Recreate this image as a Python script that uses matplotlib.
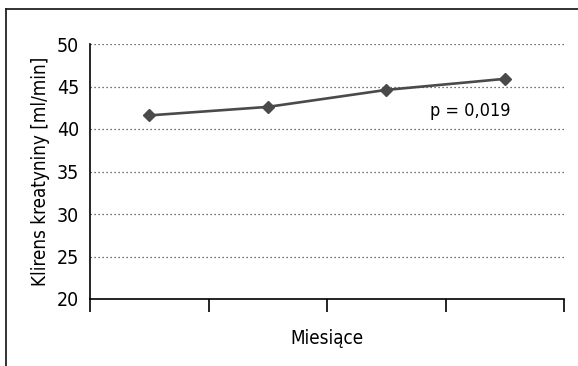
import matplotlib
matplotlib.use('Agg')
import matplotlib.pyplot as plt
from matplotlib.lines import Line2D

# clearance over four time points
months = ['1', '2', '3', '4']
klirens = [41.6, 42.6, 44.6, 45.9]
y_ticks = [20, 25, 30, 35, 40, 45, 50]

plt.rcParams['font.family'] = ['DejaVu Sans']
plt.rcParams['font.stretch'] = 'condensed'

W, H = 578, 366
fig = plt.figure(figsize=(W / 100, H / 100), dpi=100)
ax = fig.add_axes([90 / W, (H - 299) / H, (564 - 90) / W, (299 - 44) / H])

x = range(len(months))
ax.plot(x, klirens, color='#4a4a4a', lw=1.9, marker='D', ms=6,
        markerfacecolor='#4a4a4a', markeredgecolor='#4a4a4a')

ax.set_xlim(-0.5, len(months) - 0.5)
ax.set_ylim(20, 50)
ax.set_yticks(y_ticks)

# dotted horizontal gridlines (none on the baseline)
for t in y_ticks[1:]:
    ax.axhline(t, color='#444444', lw=0.9, ls=(0, (1, 2.2)), zorder=0)

# category ticks on the boundaries between months
ax.set_xticks([i - 0.5 for i in range(len(months) + 1)])
ax.set_xticklabels([])
ax.tick_params(axis='x', direction='out', length=9, width=1.2, color='black')
ax.tick_params(axis='y', length=0, pad=8, labelsize=14)

for s in ['top', 'right']:
    ax.spines[s].set_visible(False)
ax.spines['left'].set_linewidth(1.2)
ax.spines['bottom'].set_linewidth(1.2)

ax.set_xlabel('Miesiące', fontsize=13.5, labelpad=9)
ax.set_ylabel('Klirens kreatyniny [ml/min]', fontsize=13.5, labelpad=5)

ax.text(2.71, 42.1, 'p = 0,019', fontsize=13, ha='center', va='center')

# outer frame: top and left edges
fig.add_artist(Line2D([6 / W, 1], [1 - 9 / H, 1 - 9 / H], color='#222222', lw=1.3))
fig.add_artist(Line2D([6 / W, 6 / W], [0, 1 - 9 / H], color='#222222', lw=1.3))

fig.savefig('out.png', dpi=100)
